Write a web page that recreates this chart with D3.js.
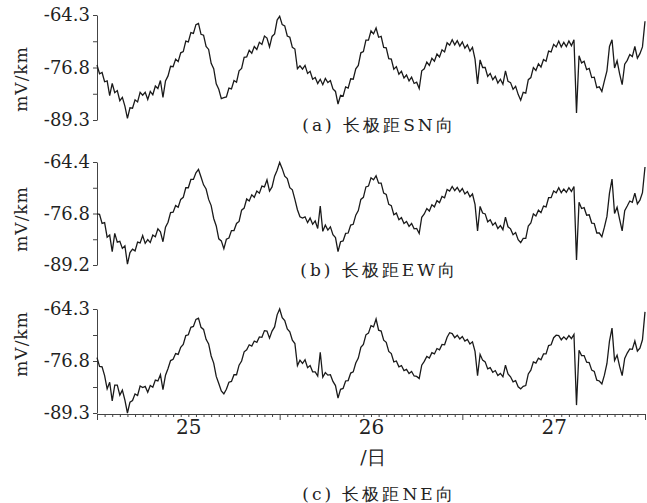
<!DOCTYPE html>
<html>
<head>
<meta charset="utf-8">
<script src="https://cdn.jsdelivr.net/npm/d3@7"></script>
<style>
  body { margin: 0; background: #fff; }
  svg { display: block; }
</style>
</head>
<body>
<svg id="chart" width="647" height="503"></svg>
<script>
// samples every 20 minutes over three days (24.5 .. 27.5 日)
const seriesSN = [-76.2,-78.3,-78.0,-80.2,-80.0,-83.5,-80.6,-82.8,-82.3,-84.7,
-83.9,-86.0,-88.9,-86.4,-86.5,-84.5,-85.0,-82.7,-83.4,-82.7,
-84.4,-82.5,-83.3,-81.2,-81.8,-79.9,-83.9,-80.0,-78.8,-76.5,
-76.6,-74.8,-75.4,-73.3,-73.0,-70.5,-70.7,-68.5,-68.7,-66.6,
-66.3,-68.9,-69.1,-71.8,-72.5,-75.8,-77.1,-80.7,-82.0,-84.2,
-84.0,-83.8,-81.7,-81.9,-79.9,-80.3,-77.6,-77.0,-74.4,-74.3,
-72.7,-73.4,-71.8,-72.5,-70.8,-71.3,-69.3,-69.8,-71.9,-69.4,
-68.8,-65.5,-64.6,-66.6,-66.9,-69.3,-69.6,-72.0,-72.4,-77.1,
-76.4,-77.2,-76.3,-78.2,-77.7,-79.6,-79.2,-80.6,-79.6,-80.9,
-79.4,-80.4,-79.9,-81.9,-82.5,-85.5,-83.4,-83.6,-81.4,-81.7,
-79.5,-79.6,-77.1,-76.3,-73.3,-73.0,-70.3,-70.3,-68.1,-68.8,
-67.4,-69.6,-69.4,-72.0,-72.1,-74.7,-74.8,-77.2,-76.6,-78.4,
-77.7,-79.3,-78.6,-80.0,-79.1,-80.6,-80.3,-81.8,-77.6,-77.1,
-75.5,-76.3,-74.6,-75.3,-73.6,-74.3,-72.6,-73.1,-70.9,-71.5,
-70.2,-71.4,-70.4,-71.7,-70.7,-72.2,-71.4,-72.9,-72.0,-74.8,
-80.7,-75.0,-76.8,-76.8,-78.9,-78.2,-79.7,-78.9,-80.5,-79.6,
-80.8,-77.6,-80.1,-80.4,-82.0,-81.3,-83.2,-84.6,-82.7,-82.9,
-79.7,-79.2,-76.8,-77.5,-75.9,-76.7,-74.9,-75.3,-72.9,-73.1,
-71.3,-71.9,-70.5,-71.9,-70.8,-71.8,-70.5,-71.6,-70.2,-87.6,
-74.0,-75.7,-75.3,-77.3,-77.0,-79.2,-79.1,-81.6,-81.4,-82.5,
-80.0,-77.6,-71.8,-70.2,-76.9,-75.2,-78.3,-80.9,-76.0,-75.1,
-73.7,-74.2,-71.8,-74.6,-73.5,-71.9,-65.8];

const seriesEW = [-76.9,-77.0,-79.2,-79.0,-82.5,-82.0,-86.0,-81.6,-83.7,-83.5,
-85.2,-84.6,-89.0,-86.2,-85.4,-85.8,-83.7,-83.9,-82.1,-84.0,
-83.1,-83.8,-82.0,-82.4,-80.5,-81.2,-83.6,-80.1,-78.9,-76.6,
-76.5,-74.9,-75.3,-73.4,-72.9,-70.6,-70.6,-68.6,-68.6,-67.0,
-66.2,-68.0,-69.9,-70.9,-73.4,-74.9,-78.0,-79.8,-82.9,-83.4,
-85.3,-83.0,-82.7,-80.9,-80.9,-79.2,-78.7,-76.0,-75.5,-73.3,
-73.8,-72.3,-72.9,-71.4,-71.9,-70.2,-70.4,-68.7,-71.4,-70.4,
-67.8,-66.4,-64.5,-66.0,-67.8,-68.4,-70.6,-71.1,-73.4,-75.9,
-77.6,-77.9,-77.6,-79.0,-77.9,-79.4,-78.6,-80.4,-75.0,-81.1,
-79.6,-80.8,-80.0,-81.9,-82.6,-86.0,-83.6,-83.4,-81.6,-81.5,
-79.6,-79.4,-77.2,-76.1,-73.4,-72.9,-70.4,-70.2,-68.2,-68.7,
-67.7,-69.5,-69.5,-71.9,-72.2,-74.6,-74.9,-77.1,-76.7,-78.3,
-77.8,-79.2,-78.7,-79.9,-79.2,-80.5,-80.4,-81.6,-77.7,-76.9,
-75.6,-76.2,-74.7,-75.2,-73.7,-74.2,-72.7,-73.0,-71.0,-71.4,
-70.3,-71.3,-70.5,-71.6,-70.8,-72.1,-71.5,-72.8,-72.1,-74.6,
-81.0,-75.1,-76.7,-76.9,-78.8,-78.3,-79.6,-79.0,-80.4,-79.7,
-80.7,-77.7,-80.0,-80.5,-81.9,-81.4,-83.1,-83.8,-82.8,-82.8,
-79.8,-79.1,-76.9,-77.4,-76.0,-76.6,-75.0,-75.2,-73.0,-73.0,
-71.4,-71.8,-70.6,-71.8,-70.9,-71.7,-70.6,-71.5,-70.3,-88.0,
-74.1,-75.6,-75.4,-77.2,-77.1,-79.1,-79.2,-81.5,-81.5,-82.4,
-80.1,-77.5,-71.9,-68.5,-76.8,-75.3,-78.2,-81.0,-76.1,-75.0,
-73.8,-74.1,-71.9,-74.5,-73.6,-71.8,-65.6];

const seriesNE = [-76.0,-78.1,-78.2,-80.3,-83.5,-81.9,-86.4,-82.6,-82.6,-85.0,
-83.8,-86.2,-89.3,-86.7,-86.3,-84.7,-85.1,-82.8,-83.2,-82.9,
-84.3,-82.7,-83.1,-81.4,-81.6,-80.1,-83.7,-80.2,-78.6,-76.7,
-76.4,-75.0,-75.2,-73.5,-72.8,-70.7,-70.5,-68.7,-68.5,-66.8,
-66.5,-68.7,-69.2,-71.6,-72.7,-75.6,-77.3,-80.5,-82.2,-84.0,
-84.7,-83.6,-81.9,-81.7,-80.1,-80.1,-77.8,-76.8,-74.6,-74.1,
-72.9,-73.2,-72.0,-72.3,-71.0,-71.1,-69.5,-69.6,-71.3,-69.6,
-68.6,-65.7,-64.3,-66.4,-67.1,-69.1,-69.8,-71.8,-72.6,-77.9,
-76.6,-77.4,-76.5,-78.4,-77.9,-79.4,-79.4,-80.4,-74.7,-80.7,
-79.6,-80.2,-80.1,-81.7,-82.7,-85.7,-83.6,-83.4,-81.6,-81.5,
-79.7,-79.4,-77.3,-76.1,-73.5,-72.8,-70.5,-70.1,-68.3,-68.6,
-66.7,-69.4,-69.6,-71.8,-72.3,-74.5,-75.0,-77.0,-76.8,-78.2,
-77.9,-79.1,-78.8,-79.8,-79.3,-80.4,-80.5,-81.0,-77.8,-76.9,
-75.7,-76.1,-74.8,-75.1,-73.8,-74.1,-72.8,-72.9,-71.1,-70.0,
-70.2,-71.2,-70.6,-71.5,-70.9,-72.0,-71.6,-72.7,-72.2,-74.5,
-80.3,-75.2,-76.6,-77.0,-78.7,-78.4,-79.5,-79.1,-80.3,-79.8,
-80.6,-77.8,-79.9,-80.6,-81.8,-81.5,-83.0,-83.5,-82.9,-82.7,
-79.9,-79.0,-77.0,-77.3,-76.1,-76.5,-75.1,-75.1,-73.1,-72.9,
-71.2,-70.6,-70.7,-71.7,-71.0,-71.6,-70.7,-71.4,-70.4,-87.4,
-74.2,-75.5,-75.5,-77.1,-77.2,-79.0,-79.3,-81.4,-81.6,-82.3,
-80.2,-77.4,-72.0,-68.9,-76.7,-75.4,-78.1,-80.3,-76.2,-74.9,
-73.9,-74.0,-72.0,-74.4,-73.7,-71.7,-65.0];

// y tick labels (bottom, middle, top) per panel
const ticksSN = [-89.3, -76.8, -64.3];
const ticksEW = [-89.2, -76.8, -64.4];
const ticksNE = [-89.3, -76.8, -64.3];

const captions = ["(a) 长极距SN向", "(b) 长极距EW向", "(c) 长极距NE向"];
const dayLabels = ["25", "26", "27"];
const dayCenters = [12, 36, 60];   // hours from start
const yUnit = "mV/km";
const xUnit = "/日";

const serif = "DejaVu Serif";

const svg = d3.select("#chart").attr("font-family", serif);
const left = 97, right = 645;

const x = d3.scaleLinear().domain([0, 72]).range([left, right]);

const panels = [
  { data: seriesSN, ticks: ticksSN, top: 15,  bottom: 120, unitY: 79,  capY: 131 },
  { data: seriesEW, ticks: ticksEW, top: 162, bottom: 265, unitY: 219, capY: 276 },
  { data: seriesNE, ticks: ticksNE, top: 309, bottom: 413, unitY: 344, capY: 500 }
];

panels.forEach(function(p, n) {
  const lo = p.ticks[0], hi = p.ticks[2];
  const y = d3.scaleLinear().domain([lo, hi]).range([p.bottom, p.top]);

  // left axis: 5 ticks, every other one labelled
  const tv = d3.range(5).map(k => lo + k * (hi - lo) / 4);
  const ax = svg.append("g")
    .attr("transform", "translate(" + left + ",0)")
    .call(d3.axisLeft(y)
      .tickValues(tv)
      .tickSize(4)
      .tickSizeOuter(0)
      .tickPadding(3)
      .tickFormat((d, k) => k % 2 === 0 ? p.ticks[k / 2].toFixed(1) : ""));
  ax.attr("font-family", serif).attr("font-size", 18);
  ax.select(".domain").attr("stroke", "#444");
  ax.selectAll(".tick line").attr("stroke", "#444");
  ax.selectAll(".tick text").attr("fill", "#222");

  // unit label
  svg.append("text")
    .attr("transform", "translate(27," + p.unitY + ") rotate(-90)")
    .attr("text-anchor", "middle")
    .attr("font-size", 17)
    .attr("letter-spacing", 1)
    .attr("fill", "#222")
    .text(yUnit);

  // the series
  const line = d3.line()
    .x((d, i) => x(i / 3))
    .y(d => y(d));
  svg.append("path")
    .datum(p.data)
    .attr("fill", "none")
    .attr("stroke", "#1a1a1a")
    .attr("stroke-width", 1.3)
    .attr("d", line);

  // caption
  svg.append("text")
    .attr("x", 379)
    .attr("y", p.capY)
    .attr("text-anchor", "middle")
    .attr("font-size", 17)
    .attr("letter-spacing", 3)
    .attr("fill", "#222")
    .text(captions[n]);
});

// bottom time axis (hourly minor ticks, day boundaries longer)
const xAxisY = 414;
const xg = svg.append("g")
  .attr("transform", "translate(0," + xAxisY + ")")
  .call(d3.axisBottom(x)
    .tickValues(d3.range(0, 73))
    .tickSize(3)
    .tickSizeOuter(0)
    .tickFormat(""));
xg.select(".domain").attr("stroke", "#444");
xg.selectAll(".tick line")
  .attr("stroke", "#444")
  .attr("y2", d => d % 24 === 0 ? 6 : 3);

const xl = svg.append("g")
  .attr("transform", "translate(0," + xAxisY + ")")
  .call(d3.axisBottom(x)
    .tickValues(dayCenters)
    .tickSize(0)
    .tickPadding(6)
    .tickFormat((d, i) => dayLabels[i]));
xl.attr("font-family", serif).attr("font-size", 20);
xl.select(".domain").remove();
xl.selectAll(".tick text").attr("fill", "#222");

svg.append("text")
  .attr("x", 373)
  .attr("y", 464)
  .attr("text-anchor", "middle")
  .attr("font-size", 19)
  .attr("fill", "#222")
  .text(xUnit);
</script>
</body>
</html>
